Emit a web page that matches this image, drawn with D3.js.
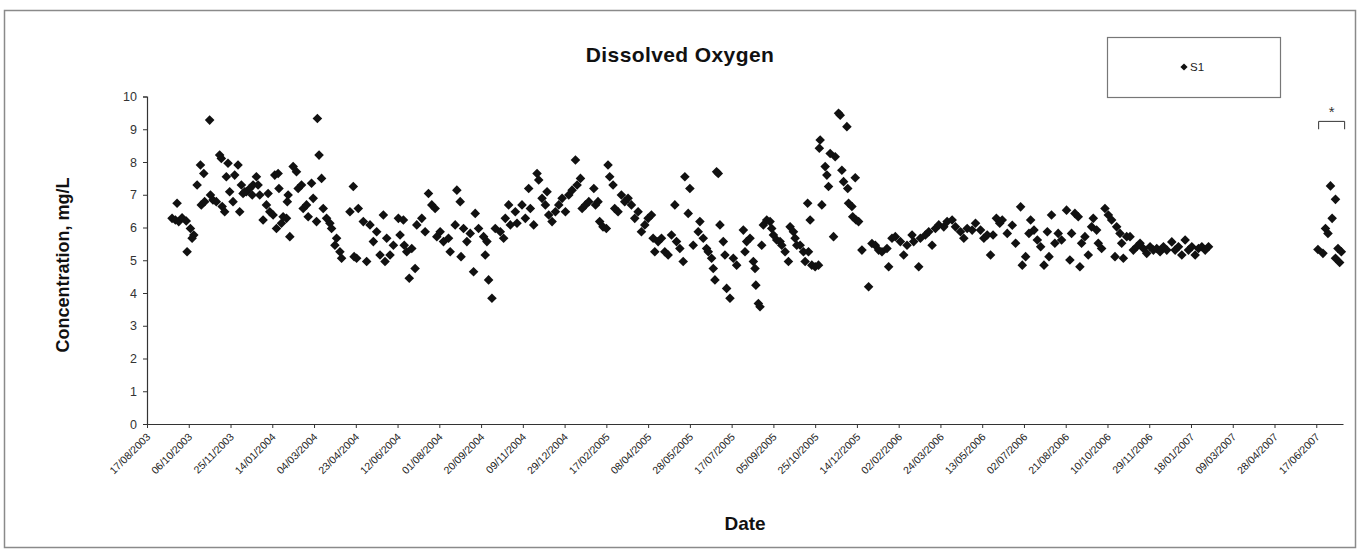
<!DOCTYPE html>
<html>
<head>
<meta charset="utf-8">
<script src="https://d3js.org/d3.v7.min.js"></script>
<style>
  html, body { margin: 0; padding: 0; background: #fff; }
  svg { display: block; font-family: "Liberation Sans", Arial, sans-serif; }
</style>
</head>
<body>
<svg id="chart" width="1362" height="554"></svg>
<script>
// Sampling dates are Excel serial day numbers (1 = 01/01/1900), DO in mg/L.
const sampleDates = [
  37886,37880,37884,37888,37892,37897,37902,37906,37904,37898,37910,37914,37918,37925,37915,37919,
  37926,37929,37937,37939,37947,37959,37955,37945,37933,37940,37943,37949,37953,37961,37965,37969,
  37973,37977,37981,37983,37985,37989,37993,37997,37995,38001,38003,38007,38008,38011,38005,38013,
  38017,38019,38018,38021,38025,38029,38031,38035,38037,38041,38043,38047,38049,38054,38056,38059,
  38053,38061,38065,38069,38071,38075,38077,38081,38083,38093,38097,38103,38098,38101,38109,38113,
  38117,38121,38125,38129,38133,38135,38137,38141,38145,38151,38157,38153,38158,38161,38167,38171,
  38164,38173,38179,38183,38187,38191,38195,38197,38201,38205,37963,37967,37976,
  38211,38213,38219,38221,38225,38226,38229,38233,38237,38241,38243,38247,38253,38255,38257,38259,
  38263,38267,38273,38277,38279,38283,38285,38291,38293,38299,38303,38307,38309,38313,38317,38319,
  38323,38327,38329,38331,38335,38339,38343,38347,38351,38355,38359,38363,38365,38369,38371,38375,
  38379,38385,38387,38390,38392,38396,38400,38402,38404,38408,38410,38414,38418,38422,38426,38430,
  38434,38438,38442,38446,38450,38454,38456,38458,38462,38466,38470,38474,38478,38482,38484,38488,
  38492,38494,38498,38500,38504,38510,38512,38516,38520,38522,38526,38528,38530,38532,38534,38536,
  38540,38542,38544,38548,38552,38556,
  38564,38568,38572,38566,38576,38578,38579,38582,38584,38586,38588,38592,38596,38598,38600,38604,
  38608,38610,38614,38618,38620,38624,38626,38628,38632,38636,38638,38642,38646,38650,38654,38641,
  38644,38658,38656,38655,38662,38664,38666,38668,38674,38672,38678,38680,38688,38682,38684,38689,
  38698,38690,38694,38695,38699,38702,38706,38714,38718,38722,38726,38730,38736,38738,38742,38746,
  38752,38756,38760,38766,38768,38774,38776,38782,38786,38790,38794,38798,38804,38808,38814,38818,
  38824,38828,38832,38838,38842,38848,38852,38856,38860,38863,38867,38871,
  38874,38880,38886,38890,38896,38898,38902,38906,38908,38912,38916,38920,38924,38928,38930,38933,
  38937,38941,38945,38951,38955,38957,38961,38965,38967,38969,38973,38977,38981,38983,38987,38989,
  38993,38997,39001,39005,39009,39011,39015,39017,39019,39023,39027,39031,39035,39039,39043,39047,
  39051,39055,39059,39063,39067,39071,39077,39081,39085,39089,39093,39097,39101,39105,39109,39113,
  39117,39121,
  39267,39273,39269,39261,39264,39252,39258,39276,39280,39273,39278
];
const doValues = [
  6.74,6.28,6.23,6.18,6.30,6.20,5.97,5.77,5.67,5.26,7.30,7.91,7.65,9.28,6.69,6.79,
  6.99,6.84,8.21,8.11,7.96,7.91,7.60,7.55,6.79,6.64,6.48,7.09,6.79,6.48,7.04,7.09,
  7.19,7.30,7.55,7.30,6.99,6.23,6.69,6.48,7.04,6.38,7.60,7.65,7.19,6.13,5.97,6.33,
  6.28,6.99,6.79,5.72,7.86,7.70,7.19,7.30,6.58,6.69,6.33,7.35,6.89,9.33,8.21,7.50,
  6.18,6.58,6.28,6.13,5.97,5.46,5.67,5.26,5.06,6.48,7.25,6.58,5.11,5.06,6.18,4.96,
  6.08,5.57,5.87,5.16,6.38,4.96,5.67,5.16,5.46,6.28,6.23,5.77,5.46,5.26,5.36,4.75,
  4.45,6.08,6.28,5.87,7.04,6.69,6.58,5.72,5.87,5.57,7.30,7.09,6.99,
  5.67,5.26,6.08,7.14,6.79,5.11,5.97,5.57,5.82,4.65,6.43,5.97,5.72,5.16,5.57,4.40,
  3.84,5.97,5.87,5.67,6.28,6.69,6.08,6.48,6.13,6.69,6.28,7.19,6.58,6.08,7.65,7.45,
  6.89,6.69,7.09,6.38,6.18,6.48,6.69,6.89,6.48,6.99,7.14,8.06,7.30,7.50,6.58,6.69,
  6.79,7.19,6.69,6.79,6.18,6.02,5.97,7.91,7.55,7.30,6.58,6.48,6.99,6.79,6.89,6.69,
  6.28,6.48,5.87,6.08,6.28,6.38,5.67,5.26,5.57,5.67,5.26,5.16,5.77,6.69,5.57,5.36,
  4.96,7.55,6.43,7.19,5.46,5.87,6.18,5.67,5.36,5.26,5.06,4.75,4.40,7.70,7.65,6.08,
  5.57,5.16,4.14,3.84,5.06,4.85,
  5.92,5.57,5.67,5.26,4.96,4.75,4.24,3.68,3.58,5.46,6.08,6.23,6.18,5.97,5.77,5.62,
  5.57,5.46,5.26,4.96,6.02,5.87,5.67,5.46,5.46,5.26,4.96,5.26,4.85,4.80,4.85,6.74,
  6.23,6.69,8.67,8.42,7.86,7.60,7.25,8.26,8.16,5.72,9.49,9.43,9.08,7.75,7.40,7.19,
  7.52,6.74,6.64,6.33,6.23,6.18,5.31,4.19,5.51,5.46,5.31,5.26,5.36,4.80,5.67,5.72,
  5.57,5.16,5.46,5.77,5.57,4.80,5.67,5.77,5.87,5.46,5.97,6.08,6.02,6.18,6.23,6.02,
  5.87,5.67,5.97,5.92,6.13,5.92,5.67,5.77,5.16,5.77,6.28,6.13,
  6.23,5.82,6.07,5.52,6.63,4.85,5.11,5.82,6.23,5.92,5.62,5.41,4.85,5.87,5.11,6.38,
  5.52,5.82,5.62,6.53,5.01,5.82,6.43,6.33,4.80,5.52,5.72,5.16,6.02,6.28,5.92,5.52,
  5.36,6.58,6.38,6.23,5.11,6.02,5.82,5.52,5.06,5.72,5.72,5.31,5.41,5.52,5.36,5.21,
  5.41,5.31,5.36,5.26,5.41,5.31,5.56,5.31,5.41,5.16,5.62,5.31,5.41,5.16,5.36,5.41,
  5.31,5.41,
  7.27,6.86,6.28,5.97,5.82,5.33,5.21,5.36,5.26,5.06,4.93
];
// Readings taken from the 2007 spot survey (marked with the bracket)
const spotDates = [39252, 39280];

const seriesName = "S1";
const chartTitle = "Dissolved Oxygen";
const xTitle = "Date";
const yTitle = "Concentration, mg/L";
const yTicks = [0,1,2,3,4,5,6,7,8,9,10];
const xStart = 37850;          // 17/08/2003
const xEnd = 39282;
const xStep = 50;              // days between date labels
const xTicks = d3.range(xStart, 39251, xStep);

const data = sampleDates.map((d, i) => ({ date: d, value: doValues[i] }));

const svg = d3.select("#chart");

// outer chart frame
svg.append("rect")
  .attr("x", 4.5).attr("y", 10.5).attr("width", 1351).attr("height", 537)
  .attr("fill", "#fff").attr("stroke", "#8a8a8a").attr("stroke-width", 1.5);

const x = d3.scaleLinear().domain([xStart, xEnd]).range([147, 1343]);
const y = d3.scaleLinear().domain([0, 10]).range([424, 96.5]);

// Excel serial -> dd/mm/yyyy
const excelEpoch = Date.UTC(1899, 11, 30);
const fmt = d3.utcFormat("%d/%m/%Y");
const serialLabel = s => fmt(new Date(excelEpoch + s * 864e5));

// y axis
const gy = svg.append("g").attr("transform", "translate(147,0)")
  .call(d3.axisLeft(y).tickValues(yTicks).tickSize(4).tickPadding(6).tickFormat(d3.format("d")));
gy.select(".domain").attr("stroke", "#333").attr("stroke-width", 1.2);
gy.selectAll(".tick line").attr("stroke", "#333");
gy.selectAll(".tick text").attr("font-size", 12.5).attr("fill", "#333")
  .attr("font-family", "Liberation Sans, Arial, sans-serif");

// x axis
const gx = svg.append("g").attr("transform", "translate(0,424)")
  .call(d3.axisBottom(x).tickValues(xTicks).tickSize(4).tickSizeOuter(0).tickFormat(serialLabel));
gx.select(".domain").attr("stroke", "#333").attr("stroke-width", 1.2);
gx.selectAll(".tick line").attr("stroke", "#333");
gx.selectAll(".tick text")
  .attr("font-size", 10.5).attr("fill", "#222")
  .attr("font-family", "Liberation Sans, Arial, sans-serif")
  .attr("text-anchor", "end")
  .attr("x", 0).attr("y", 0).attr("dy", "0.35em")
  .attr("transform", "translate(1,11) rotate(-45)");

// markers: square diamonds
const diamond = d3.symbol().type(d3.symbolSquare).size(46);
svg.append("g").selectAll("path")
  .data(data)
  .join("path")
  .attr("d", diamond)
  .attr("transform", d => `translate(${x(d.date)},${y(d.value)}) rotate(45)`)
  .attr("fill", "#111");

// bracket and asterisk over the spot survey readings
const bx = (x(spotDates[0]) + x(spotDates[1])) / 2 + 2;
svg.append("path")
  .attr("d", `M${bx - 13},${y(9.0)} L${bx - 13},${y(9.24)} L${bx + 13},${y(9.24)} L${bx + 13},${y(9.0)}`)
  .attr("fill", "none").attr("stroke", "#333").attr("stroke-width", 1);
svg.append("text")
  .attr("x", bx).attr("y", y(9.36))
  .attr("text-anchor", "middle").attr("font-size", 15).attr("fill", "#333")
  .text("*");

// titles
svg.append("text")
  .attr("x", 680).attr("y", 62).attr("text-anchor", "middle")
  .attr("font-size", 21).attr("font-weight", "bold").attr("fill", "#111")
  .attr("letter-spacing", 0.4)
  .text(chartTitle);
svg.append("text")
  .attr("x", 745).attr("y", 530).attr("text-anchor", "middle")
  .attr("font-size", 19).attr("font-weight", "bold").attr("fill", "#111")
  .text(xTitle);
svg.append("text")
  .attr("transform", "translate(69,265) rotate(-90)")
  .attr("text-anchor", "middle")
  .attr("font-size", 18).attr("font-weight", "bold").attr("fill", "#111")
  .text(yTitle);

// legend
const lg = svg.append("g");
lg.append("rect")
  .attr("x", 1107.5).attr("y", 37.5).attr("width", 173).attr("height", 60)
  .attr("fill", "#fff").attr("stroke", "#777").attr("stroke-width", 1.2);
lg.append("path")
  .attr("d", d3.symbol().type(d3.symbolSquare).size(26))
  .attr("transform", "translate(1184,67) rotate(45)")
  .attr("fill", "#111");
lg.append("text")
  .attr("x", 1190).attr("y", 71)
  .attr("font-size", 11.5).attr("fill", "#222")
  .text(seriesName);
</script>
</body>
</html>
